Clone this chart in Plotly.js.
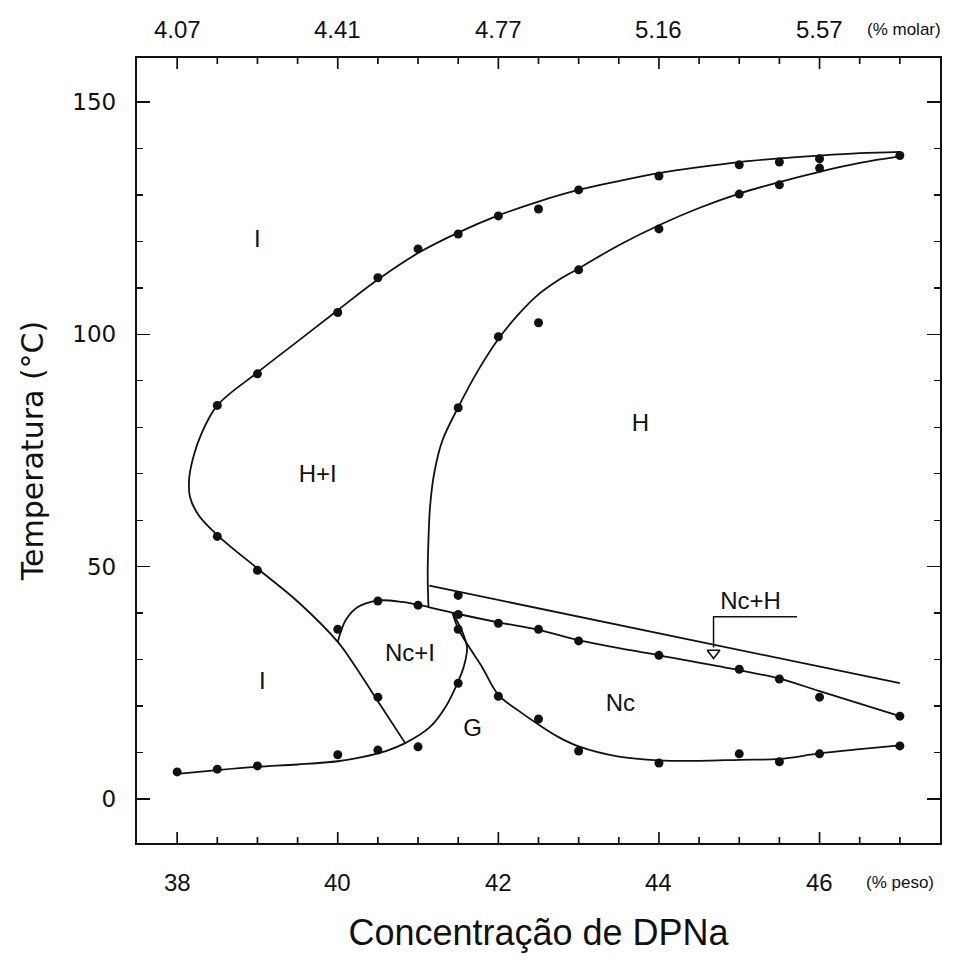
<!DOCTYPE html>
<html>
<head>
<meta charset="utf-8">
<script src="https://cdn.plot.ly/plotly-3.0.1.min.js"></script>
<style>
  html, body { margin: 0; padding: 0; background: #fff; }
  #chart { width: 965px; height: 963px; }
</style>
</head>
<body>
<div id="chart"></div>
<script>
// Phase diagram of sodium decylphosphate (DPNa) / water.
// Weight-percent axis (bottom) and matching mole-percent labels (top).
const pesoTicks = [38, 40, 42, 44, 46];
const molarLabels = ['4.07', '4.41', '4.77', '5.16', '5.57'];
const pesoMinorStep = 0.5;
const pesoLast = 47;

// Boundary curves (weight %, °C)
// I | H+I outer boundary, continuing down as the I | Nc+I border
const outerX = [40.84, 40.5, 40.2, 40.0, 39.5, 39.0, 38.5, 38.27, 38.16, 38.15, 38.2, 38.3, 38.5, 39.0, 39.5, 40.0, 40.5, 41.0, 41.5, 42.0, 42.5, 43.0, 43.5, 44.0, 44.5, 45.0, 45.5, 46.0, 46.5, 47.0];
const outerY = [12.0, 21.0, 29.0, 33.8, 42.5, 49.6, 56.8, 61.0, 65.0, 69.0, 73.5, 78.5, 84.7, 91.8, 98.5, 105.2, 111.8, 117.5, 121.9, 125.6, 128.6, 131.1, 133.0, 134.7, 136.0, 137.1, 137.9, 138.5, 139.0, 139.3];

// H+I | H boundary
const innerX = [41.13, 41.12, 41.13, 41.15, 41.2, 41.3, 41.5, 41.75, 42.0, 42.25, 42.5, 42.75, 43.0, 43.5, 44.0, 44.5, 45.0, 45.5, 46.0, 46.5, 47.0];
const innerY = [41.3, 48.0, 56.0, 63.0, 70.0, 77.0, 84.3, 92.3, 99.0, 104.3, 108.6, 111.7, 114.2, 119.2, 123.5, 127.2, 130.3, 132.8, 135.0, 136.9, 138.3];

// Top of the Nc+I loop, continuing as the Nc | Nc+H line
const ncTopX = [40.0, 40.1, 40.25, 40.5, 40.8, 41.13, 41.5, 42.0, 42.5, 43.0, 44.0, 45.0, 45.5, 46.0, 47.0];
const ncTopY = [33.8, 38.5, 41.3, 42.7, 42.4, 41.3, 39.8, 38.0, 36.4, 34.2, 30.9, 27.7, 25.9, 23.2, 17.8];

// Nc+H | H line
const ncHX = [41.14, 47.0];
const ncHY = [45.9, 24.9];

// Lower I | G boundary, rising as the Nc+I | G border
const gLeftX = [38.0, 38.5, 39.0, 39.5, 40.0, 40.3, 40.6, 40.84, 41.15, 41.35, 41.49, 41.57, 41.61, 41.55, 41.43];
const gLeftY = [5.4, 6.2, 6.9, 7.4, 8.1, 9.0, 10.3, 12.0, 15.5, 20.0, 24.9, 28.5, 32.5, 36.0, 40.0];

// G | Nc boundary
const gRightX = [41.43, 41.5, 41.65, 41.8, 42.0, 42.25, 42.5, 42.75, 43.0, 43.5, 44.0, 44.5, 45.0, 45.5, 46.0, 46.5, 47.0];
const gRightY = [40.0, 36.6, 32.3, 28.3, 22.4, 19.0, 16.0, 13.3, 11.3, 9.1, 8.3, 8.2, 8.4, 8.6, 9.8, 10.7, 11.5];

// Measured transition temperatures
const outerPtsX = [38.5, 39.0, 40.0, 40.5, 41.0, 41.5, 42.0, 42.5, 43.0, 44.0, 45.0, 45.5, 46.0, 47.0];
const outerPtsY = [84.7, 91.5, 104.7, 112.2, 118.4, 121.6, 125.5, 127.0, 131.1, 134.1, 136.5, 137.1, 137.8, 138.5];
const innerPtsX = [41.5, 42.0, 42.5, 43.0, 44.0, 45.0, 45.5, 46.0];
const innerPtsY = [84.2, 99.5, 102.5, 113.9, 122.7, 130.2, 132.2, 135.8];
const lowLeftPtsX = [38.5, 39.0, 40.0, 40.5];
const lowLeftPtsY = [56.5, 49.2, 36.5, 21.9];
const ncTopPtsX = [40.5, 41.0, 41.5, 41.5, 42.0, 42.5, 43.0, 44.0, 45.0, 45.5, 46.0, 47.0];
const ncTopPtsY = [42.6, 41.7, 43.8, 39.7, 37.8, 36.5, 34.0, 30.9, 27.9, 25.8, 21.9, 17.8];
const gPtsX = [41.5, 41.5, 42.0, 42.5, 43.0, 44.0, 45.0, 45.5, 46.0, 47.0];
const gPtsY = [36.5, 24.9, 22.1, 17.2, 10.3, 7.7, 9.7, 8.0, 9.7, 11.4];
const bottomPtsX = [38.0, 38.5, 39.0, 40.0, 40.5, 41.0];
const bottomPtsY = [5.8, 6.4, 7.1, 9.5, 10.5, 11.2];

// Phase labels
const phaseNames = ['I', 'H+I', 'H', 'I', 'Nc+I', 'G', 'Nc', 'Nc+H'];
const phaseX = [39.0, 39.75, 43.77, 39.06, 40.9, 41.68, 43.52, 45.14];
const phaseY = [120.0, 69.6, 80.4, 25.0, 30.9, 14.8, 20.2, 42.1];

// Pointer from the Nc+H label to the narrow band
const pointerX = [45.72, 44.68, 44.68];
const pointerY = [39.2, 39.2, 32.6];
const pointerTipX = [44.68];
const pointerTipY = [31.4];

const ink = '#111';
const sans = 'Liberation Sans, Arial, sans-serif';
const W = 965, H = 963;
const margin = { l: 137, r: 25, t: 58, b: 120 };
const yRange = [-9.5, 159.5];
const xRange = [37.5, 47.5];

const curve = (x, y, shape) => ({
  x, y, type: 'scatter', mode: 'lines', hoverinfo: 'skip', showlegend: false,
  line: { color: ink, width: 1.8, shape: shape || 'spline', smoothing: 1 }
});
const dots = (x, y) => ({
  x, y, type: 'scatter', mode: 'markers', hoverinfo: 'skip', showlegend: false,
  marker: { color: ink, size: 9, symbol: 'circle' }
});

// inward tick marks along the bottom and top frames, long at the labelled values
const unitsPerPx = (yRange[1] - yRange[0]) / (H - margin.t - margin.b);
const tickX = [], tickY = [];
for (let v = pesoTicks[0]; v <= pesoLast + 1e-9; v += pesoMinorStep) {
  const len = (pesoTicks.includes(v) ? 11 : 6) * unitsPerPx;
  tickX.push(v, v, null, v, v, null);
  tickY.push(yRange[0], yRange[0] + len, null, yRange[1], yRange[1] - len, null);
}

const traces = [
  curve(outerX, outerY),
  curve(innerX, innerY),
  curve(ncTopX, ncTopY),
  curve(ncHX, ncHY, 'linear'),
  curve(gLeftX, gLeftY),
  curve(gRightX, gRightY),
  dots(outerPtsX, outerPtsY),
  dots(innerPtsX, innerPtsY),
  dots(lowLeftPtsX, lowLeftPtsY),
  dots(ncTopPtsX, ncTopPtsY),
  dots(gPtsX, gPtsY),
  dots(bottomPtsX, bottomPtsY),
  {
    x: pointerX, y: pointerY, type: 'scatter', mode: 'lines', hoverinfo: 'skip', showlegend: false,
    line: { color: ink, width: 1.5 }
  },
  {
    x: pointerTipX, y: pointerTipY, type: 'scatter', mode: 'markers', hoverinfo: 'skip', showlegend: false,
    marker: { symbol: 'triangle-down-open', size: 11, color: ink, line: { color: ink, width: 1.6 } }
  },
  {
    x: tickX, y: tickY, type: 'scatter', mode: 'lines', hoverinfo: 'skip', showlegend: false,
    connectgaps: false, cliponaxis: false,
    line: { color: ink, width: 1.7 }
  },
  {
    x: phaseX, y: phaseY, text: phaseNames, type: 'scatter', mode: 'text',
    hoverinfo: 'skip', showlegend: false,
    textfont: { family: sans, size: 24, color: ink }
  }
];

const axisFont = { family: sans, size: 24, color: ink };

// weight-percent labels under the bottom frame, mole-percent above the top frame
const pesoAnnotations = pesoTicks.map((v) => ({
  text: String(v), xref: 'x', yref: 'paper', x: v, y: -0.05,
  xanchor: 'center', yanchor: 'middle', showarrow: false, font: axisFont
}));
const molarAnnotations = pesoTicks.map((v, i) => ({
  text: molarLabels[i], xref: 'x', yref: 'paper', x: v, y: 1.036,
  xanchor: 'center', yanchor: 'middle', showarrow: false, font: axisFont
}));

const layout = {
  width: W,
  height: H,
  margin: margin,
  paper_bgcolor: '#fff',
  plot_bgcolor: '#fff',
  showlegend: false,
  xaxis: {
    range: xRange,
    ticks: '', showticklabels: false,
    showline: true, linecolor: ink, linewidth: 2.2, mirror: true,
    showgrid: false, zeroline: false,
    title: { text: 'Concentração de DPNa', font: { family: sans, size: 36, color: ink }, standoff: 76 }
  },
  yaxis: {
    range: yRange,
    tickmode: 'linear', tick0: 0, dtick: 50,
    ticks: 'inside', ticklen: 13, tickwidth: 1.6, tickcolor: ink,
    minor: { tick0: 0, dtick: 10, ticks: 'inside', ticklen: 6, tickwidth: 1.3, tickcolor: ink, showgrid: false },
    showline: true, linecolor: ink, linewidth: 2.2, mirror: 'ticks',
    showgrid: false, zeroline: false,
    tickfont: { family: 'DejaVu Sans, sans-serif', size: 23, color: ink }, ticklabelstandoff: 14,
    title: { text: 'Temperatura (°C)', font: { family: 'DejaVu Sans, sans-serif', size: 30, color: ink }, standoff: 20 }
  },
  annotations: pesoAnnotations.concat(molarAnnotations, [
    {
      text: '(% peso)', xref: 'x', yref: 'paper', x: 47.0, y: -0.05,
      xanchor: 'center', yanchor: 'middle', showarrow: false,
      font: { family: sans, size: 17, color: ink }
    },
    {
      text: '(% molar)', xref: 'x', yref: 'paper', x: 47.05, y: 1.036,
      xanchor: 'center', yanchor: 'middle', showarrow: false,
      font: { family: sans, size: 17, color: ink }
    }
  ])
};

Plotly.newPlot('chart', traces, layout, { staticPlot: true, displayModeBar: false });
</script>
</body>
</html>
